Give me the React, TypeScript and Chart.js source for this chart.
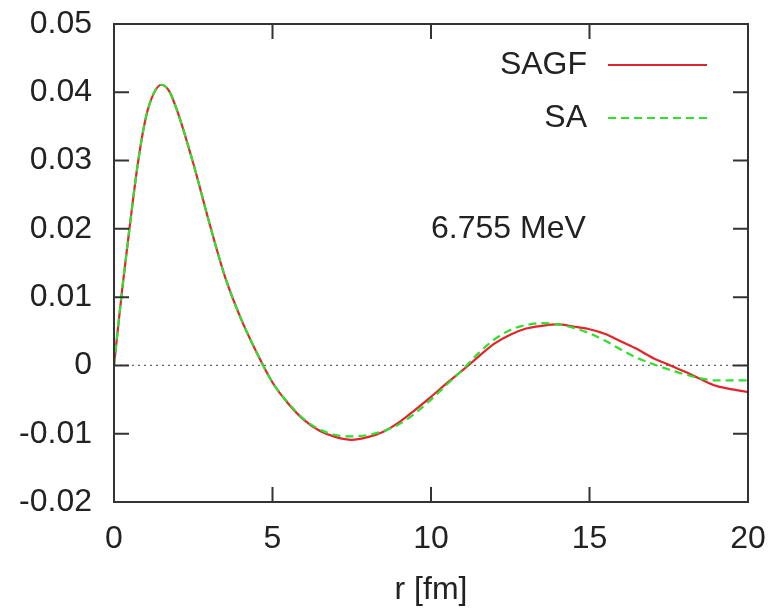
import React, { useEffect, useRef } from "react";
import { Chart, registerables } from "chart.js";

Chart.register(...registerables);

const R_FM = [0, 0.25, 0.5, 0.75, 1.0, 1.25, 1.5, 1.75, 2.0, 2.5, 3.0, 3.5, 4.0, 4.5, 5.0, 5.5, 6.0, 6.5, 7.0, 7.5, 8.0, 8.5, 9.0, 9.5, 10.0, 10.5, 11.0, 11.5, 12.0, 12.5, 13.0, 13.5, 14.0, 14.5, 15.0, 15.5, 16.0, 16.5, 17.0, 17.5, 18.0, 18.5, 19.0, 19.5, 20.0];

const SAGF = [0, 0.0108, 0.0205, 0.0295, 0.0362, 0.0398, 0.0411, 0.0401, 0.0372, 0.0296, 0.0210, 0.0130, 0.0069, 0.0019, -0.0025, -0.0056, -0.0080, -0.0096, -0.0105, -0.0109, -0.0105, -0.0097, -0.0083, -0.0065, -0.0046, -0.0026, -0.0007, 0.0013, 0.0032, 0.0045, 0.0054, 0.0058, 0.0060, 0.0057, 0.0053, 0.0046, 0.0035, 0.0024, 0.0011, 0.0001, -0.0009, -0.0020, -0.0030, -0.0035, -0.0039];

const SA = [0, 0.0108, 0.0205, 0.0295, 0.0362, 0.0398, 0.0411, 0.0401, 0.0372, 0.0296, 0.0210, 0.0130, 0.0069, 0.0019, -0.0025, -0.0055, -0.0079, -0.0094, -0.0102, -0.0104, -0.0102, -0.0096, -0.0086, -0.0070, -0.0050, -0.0028, -0.0006, 0.0018, 0.0038, 0.0052, 0.0059, 0.0062, 0.0060, 0.0055, 0.0047, 0.0036, 0.0023, 0.0011, 0.0002, -0.0006, -0.0013, -0.0019, -0.0022, -0.0022, -0.0022];

const SERIES_LABELS = ["SAGF", "SA"];
const X_TITLE = "r [fm]";
const ANNOTATION = "6.755 MeV";
const ANNOTATION_AT = { x: 10, y: 0.02 };
const X_RANGE = { min: 0, max: 20, step: 5 };
const Y_RANGE = { min: -0.02, max: 0.05, step: 0.01 };

const FONT = "'Liberation Sans', Arial, Helvetica, sans-serif";
const FONT_SIZE = 32;
const TEXT_COLOR = "#222";
const AXIS_COLOR = "#333";

const framePlugin = {
  id: "gnuplotFrame",
  beforeDatasetsDraw(chart: any) {
    const { ctx, chartArea, scales } = chart;
    const y0 = scales.y.getPixelForValue(0);
    ctx.save();
    ctx.strokeStyle = "#666";
    ctx.lineWidth = 1.2;
    ctx.setLineDash([2, 4]);
    ctx.beginPath();
    ctx.moveTo(chartArea.left, y0);
    ctx.lineTo(chartArea.right, y0);
    ctx.stroke();
    ctx.restore();
  },
  afterDatasetsDraw(chart: any) {
    const { ctx, chartArea, scales } = chart;
    const { left, right, top, bottom } = chartArea;
    const tick = 15;
    ctx.save();
    ctx.strokeStyle = AXIS_COLOR;
    ctx.lineWidth = 2;
    ctx.setLineDash([]);
    ctx.strokeRect(left, top, right - left, bottom - top);
    ctx.beginPath();
    scales.x.ticks.forEach((t: any) => {
      const px = scales.x.getPixelForValue(t.value);
      ctx.moveTo(px, bottom);
      ctx.lineTo(px, bottom - tick);
      ctx.moveTo(px, top);
      ctx.lineTo(px, top + tick);
    });
    scales.y.ticks.forEach((t: any) => {
      const py = scales.y.getPixelForValue(t.value);
      ctx.moveTo(left, py);
      ctx.lineTo(left + tick, py);
      ctx.moveTo(right, py);
      ctx.lineTo(right - tick, py);
    });
    ctx.stroke();

    // annotation
    ctx.fillStyle = TEXT_COLOR;
    ctx.font = `${FONT_SIZE}px ${FONT}`;
    ctx.textAlign = "left";
    ctx.textBaseline = "middle";
    ctx.fillText(
      ANNOTATION,
      scales.x.getPixelForValue(ANNOTATION_AT.x),
      scales.y.getPixelForValue(ANNOTATION_AT.y)
    );

    // legend (gnuplot style: text then line sample)
    chart.data.datasets.forEach((ds: any, i: number) => {
      const ly = top + 41 + i * 53;
      ctx.fillStyle = TEXT_COLOR;
      ctx.textAlign = "right";
      ctx.fillText(ds.label, right - 161, ly);
      ctx.strokeStyle = ds.borderColor;
      ctx.lineWidth = ds.borderWidth;
      ctx.setLineDash(ds.borderDash || []);
      ctx.beginPath();
      ctx.moveTo(right - 140, ly);
      ctx.lineTo(right - 41, ly);
      ctx.stroke();
    });
    ctx.restore();
  },
};

export default function App() {
  const canvasRef = useRef<HTMLCanvasElement | null>(null);

  useEffect(() => {
    if (!canvasRef.current) return;
    const toPts = (vals: number[]) => R_FM.map((r, i) => ({ x: r, y: vals[i] }));
    const chart = new Chart(canvasRef.current, {
      type: "line",
      data: {
        datasets: [
          {
            label: SERIES_LABELS[0],
            data: toPts(SAGF),
            borderColor: "#e2242c",
            borderWidth: 2.2,
            pointRadius: 0,
            cubicInterpolationMode: "monotone",
            order: 1,
          },
          {
            label: SERIES_LABELS[1],
            data: toPts(SA),
            borderColor: "#2fe02f",
            borderWidth: 2.2,
            borderDash: [8, 5],
            pointRadius: 0,
            cubicInterpolationMode: "monotone",
            order: 0,
          },
        ],
      },
      options: {
        animation: false,
        responsive: true,
        maintainAspectRatio: false,
        layout: { padding: { top: 24, right: 29, bottom: 0, left: 0 } },
        plugins: {
          legend: { display: false },
          tooltip: { enabled: false },
        },
        scales: {
          x: {
            type: "linear",
            min: X_RANGE.min,
            max: X_RANGE.max,
            grid: { display: false, drawTicks: false },
            border: { display: false },
            ticks: {
              stepSize: X_RANGE.step,
              padding: 18,
              color: TEXT_COLOR,
              font: { family: FONT, size: FONT_SIZE },
              maxRotation: 0,
            },
            title: {
              display: true,
              text: X_TITLE,
              color: TEXT_COLOR,
              font: { family: FONT, size: FONT_SIZE },
              padding: { top: 0, bottom: 0 },
            },
            afterFit: (s: any) => {
              s.height = 107;
              s.paddingLeft = 0;
              s.paddingRight = 0;
            },
          },
          y: {
            type: "linear",
            min: Y_RANGE.min,
            max: Y_RANGE.max,
            grid: { display: false, drawTicks: false },
            border: { display: false },
            ticks: {
              stepSize: Y_RANGE.step,
              padding: 22,
              color: TEXT_COLOR,
              font: { family: FONT, size: FONT_SIZE },
              callback: (v: any) => String(parseFloat(Number(v).toFixed(2))),
            },
            afterFit: (s: any) => {
              s.width = 114;
              s.paddingTop = 0;
              s.paddingBottom = 0;
            },
          },
        },
      },
      plugins: [framePlugin],
    } as any);
    return () => chart.destroy();
  }, []);

  return (
    <div style={{ position: "absolute", left: 0, top: 0, width: 777, height: 609, background: "#fff" }}>
      <canvas ref={canvasRef} />
    </div>
  );
}
